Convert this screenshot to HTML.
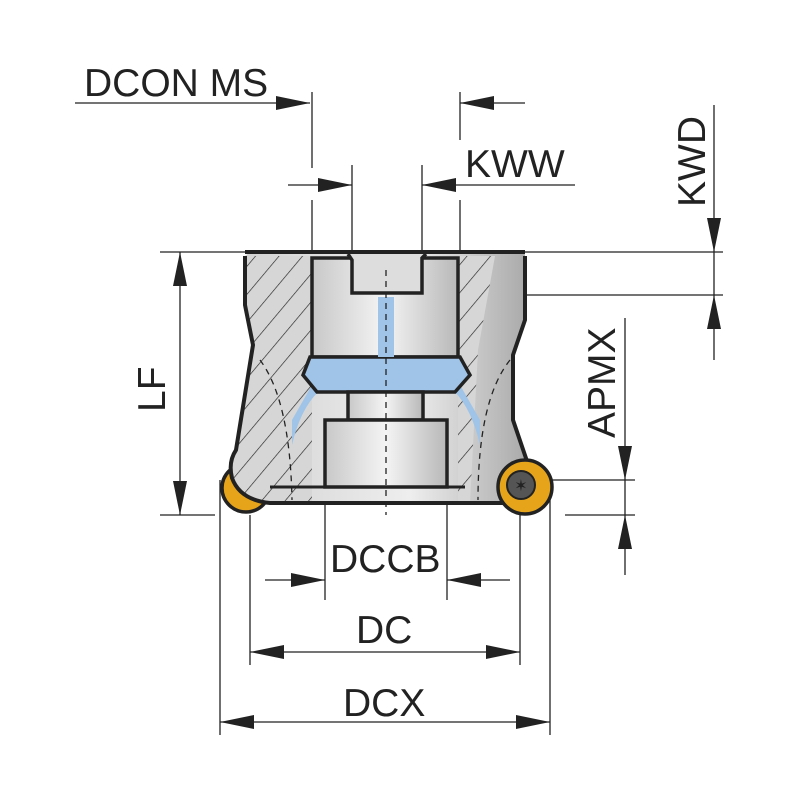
<!DOCTYPE html>
<html><head><meta charset="utf-8"><style>html,body{margin:0;padding:0;background:#fff}</style></head>
<body>
<svg width="800" height="800" viewBox="0 0 800 800" xmlns="http://www.w3.org/2000/svg">
<defs>
<linearGradient id="g" x1="0" x2="1"><stop offset="0" stop-color="#c8c8c8"/><stop offset="0.5" stop-color="#f4f4f4"/><stop offset="1" stop-color="#b8b8b8"/></linearGradient>
<linearGradient id="g2" x1="0" x2="1"><stop offset="0" stop-color="#d0d0d0"/><stop offset="0.6" stop-color="#eeeeee"/><stop offset="1" stop-color="#a8a8a8"/></linearGradient>
<pattern id="h" width="18" height="18" patternUnits="userSpaceOnUse" patternTransform="rotate(40)"><rect width="18" height="18" fill="#d6d6d6"/><line x1="0" y1="0" x2="0" y2="18" stroke="#222" stroke-width="1.3"/></pattern>
</defs>
<g stroke="#222" stroke-width="1.3" fill="none">
<line x1="75" y1="103" x2="310" y2="103"/><line x1="460" y1="103" x2="525" y2="103"/>
<line x1="312" y1="92" x2="312" y2="168"/><line x1="460" y1="92" x2="460" y2="140"/>
<line x1="312" y1="200" x2="312" y2="250"/><line x1="460" y1="200" x2="460" y2="250"/>
<line x1="288" y1="185" x2="352" y2="185"/><line x1="422" y1="185" x2="575" y2="185"/>
<line x1="352" y1="165" x2="352" y2="250"/><line x1="422" y1="165" x2="422" y2="250"/>
<line x1="714" y1="105" x2="714" y2="360"/>
<line x1="525" y1="252" x2="723" y2="252"/><line x1="525" y1="295" x2="723" y2="295"/>
<line x1="180" y1="252" x2="180" y2="515"/>
<line x1="160" y1="252" x2="245" y2="252"/><line x1="160" y1="515" x2="215" y2="515"/>
<line x1="625" y1="318" x2="625" y2="575"/>
<line x1="545" y1="480" x2="635" y2="480"/><line x1="565" y1="515" x2="635" y2="515"/>
<line x1="265" y1="580" x2="325" y2="580"/><line x1="447" y1="580" x2="510" y2="580"/>
<line x1="325" y1="500" x2="325" y2="600"/><line x1="447" y1="500" x2="447" y2="600"/>
<line x1="250" y1="652" x2="520" y2="652"/>
<line x1="250" y1="515" x2="250" y2="665"/><line x1="520" y1="515" x2="520" y2="665"/>
<line x1="220" y1="722" x2="550" y2="722"/>
<line x1="220" y1="480" x2="220" y2="735"/><line x1="550" y1="480" x2="550" y2="735"/>
</g>
<g fill="#222">
<polygon points="310,103 276,96 276,110"/><polygon points="460,103 494,96 494,110"/>
<polygon points="352,185 318,178 318,192"/><polygon points="422,185 456,178 456,192"/>
<polygon points="714,252 707,218 721,218"/><polygon points="714,295 707,329 721,329"/>
<polygon points="180,252 173,286 187,286"/><polygon points="180,515 173,481 187,481"/>
<polygon points="625,480 618,446 632,446"/><polygon points="625,515 618,549 632,549"/>
<polygon points="325,580 291,573 291,587"/><polygon points="447,580 481,573 481,587"/>
<polygon points="250,652 284,645 284,659"/><polygon points="520,652 486,645 486,659"/>
<polygon points="220,722 254,715 254,729"/><polygon points="550,722 516,715 516,729"/>
</g>
<!-- left insert under body -->
<circle cx="246" cy="488" r="24" fill="#e6a41a" stroke="#222" stroke-width="3.5"/>
<!-- body -->
<path d="M250,252 L345,252 L352,260 L352,293 L422,293 L422,258 L428,252 L522,252 Q525,252 525,256 L525,320 L513,355 L513,420 L530,470 L520,503 L270,503 Q240,500 232,478 Q228,462 236,450 L253,345 L245,305 L245,256 Z" fill="url(#g2)"/>
<path d="M247,256 L312,256 L312,503 L270,503 Q240,500 232,478 Q228,462 236,450 L253,345 L247,305 Z" fill="url(#h)"/>
<path d="M458,256 L495,256 L478,350 L470,503 L458,503 Z" fill="url(#h)"/>
<rect x="312" y="258" width="146" height="99" fill="url(#g)" stroke="#222" stroke-width="3.5"/>
<path d="M348,254 L352,260 L352,293 L422,293 L422,258 L426,254" fill="#ddd" stroke="#222" stroke-width="3.5"/>
<path d="M312,385 L292,420 L292,445 Q300,410 318,392 Z" fill="#9fc4e8"/><path d="M460,385 L480,420 L480,445 Q472,410 455,392 Z" fill="#9fc4e8"/>
<path d="M310,357 L460,357 L470,375 L455,392 L317,392 L303,375 Z" fill="#9fc4e8" stroke="#222" stroke-width="3.5"/>
<rect x="378" y="297" width="16" height="60" fill="#9fc4e8"/>
<rect x="348" y="392" width="75" height="28" fill="url(#g)" stroke="#222" stroke-width="3.5"/>
<rect x="325" y="420" width="122" height="67" fill="url(#g)" stroke="#222" stroke-width="3.5"/>
<line x1="270" y1="487" x2="465" y2="487" stroke="#222" stroke-width="3"/>
<path d="M525,256 L525,320 L513,355 L513,420 L530,470 L520,503 L270,503 Q240,500 232,478 Q228,462 236,450 L253,345 L245,305 L245,256" fill="none" stroke="#222" stroke-width="4" stroke-linejoin="round"/>
<line x1="245" y1="252" x2="525" y2="252" stroke="#222" stroke-width="4"/>
<g stroke="#222" stroke-width="1.3" stroke-dasharray="6,5" fill="none">
<line x1="386" y1="270" x2="386" y2="515"/>
<path d="M260,360 Q290,400 292,500"/><path d="M510,360 Q478,400 478,500"/>
</g>
<circle cx="525" cy="487" r="27" fill="#e6a41a" stroke="#222" stroke-width="3.5"/>
<circle cx="521" cy="485" r="14" fill="#555" stroke="#222" stroke-width="2"/>
<text x="521" y="491" font-family="DejaVu Sans" font-size="16" text-anchor="middle" fill="#222">✶</text>
<g font-family="Liberation Sans, sans-serif" font-size="39" fill="#222">
<text x="84" y="96">DCON MS</text>
<text x="465" y="177">KWW</text>
<text x="330" y="572">DCCB</text>
<text x="356" y="643">DC</text>
<text x="343" y="716">DCX</text>
<text transform="translate(705,207) rotate(-90)">KWD</text>
<text transform="translate(165,412) rotate(-90)">LF</text>
<text transform="translate(615,438) rotate(-90)">APMX</text>
</g>
</svg>
</body></html>
